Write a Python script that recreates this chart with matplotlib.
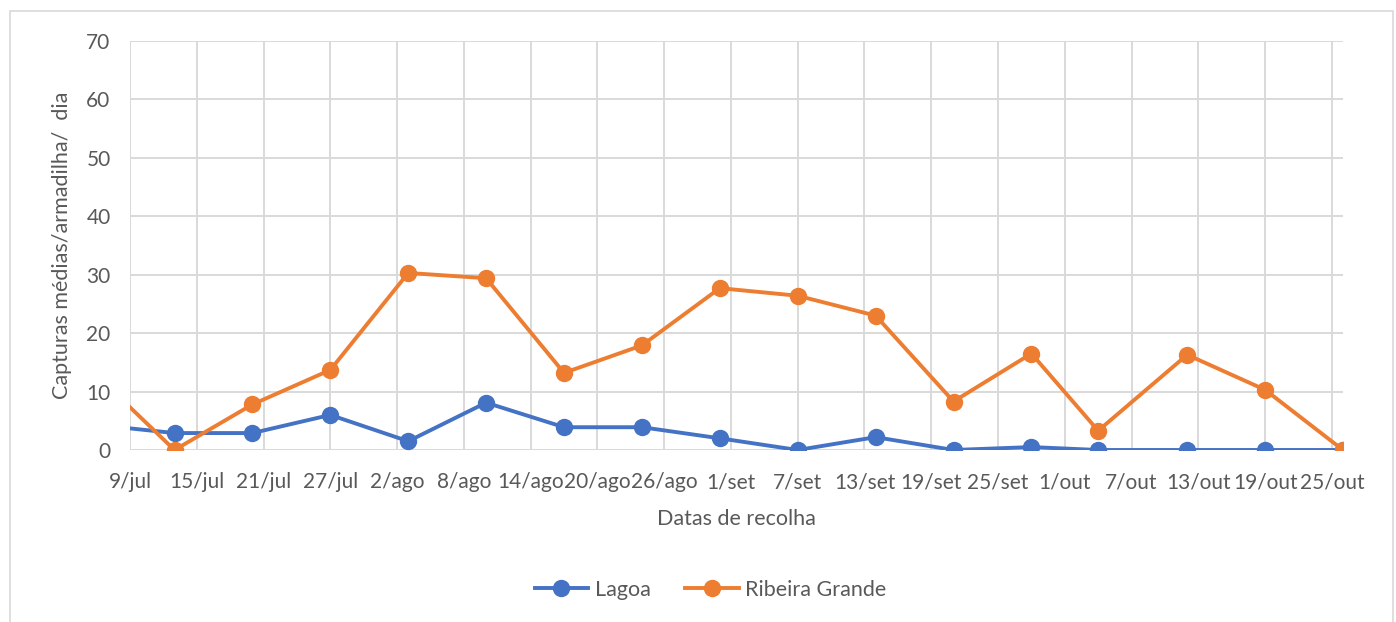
import pandas as pd
import matplotlib
matplotlib.use("Agg")
import matplotlib.pyplot as plt
from matplotlib.patches import Rectangle

plt.rcParams['font.family'] = ['Lato', 'DejaVu Sans']

# collection dates (first one falls just before the axis start and is clipped)
dates = pd.to_datetime([
    "2019-07-06", "2019-07-13", "2019-07-20", "2019-07-27", "2019-08-03",
    "2019-08-10", "2019-08-17", "2019-08-24", "2019-08-31", "2019-09-07",
    "2019-09-14", "2019-09-21", "2019-09-28", "2019-10-04", "2019-10-12",
    "2019-10-19", "2019-10-26",
])
lagoa = [4.3, 2.9, 2.9, 6.0, 1.5, 8.1, 3.9, 3.9, 2.0, 0.0,
         2.2, 0.0, 0.5, 0.0, 0.0, 0.0, 0.0]
ribeira = [12.8, 0.0, 7.8, 13.7, 30.3, 29.4, 13.2, 17.9, 27.7, 26.4,
           23.0, 8.3, 16.5, 3.3, 16.3, 10.3, 0.0]

tick_dates = pd.date_range("2019-07-09", "2019-10-25", freq="6D")
tick_labels = ["9/jul", "15/jul", "21/jul", "27/jul", "2/ago", "8/ago",
               "14/ago", "20/ago", "26/ago", "1/set", "7/set", "13/set",
               "19/set", "25/set", "1/out", "7/out", "13/out", "19/out",
               "25/out"]

BLUE = "#4472C4"
ORANGE = "#ED7D31"
GRID = "#d9d9d9"
TXT = "#595959"

fig = plt.figure(figsize=(13.96, 6.22), dpi=100)
fig.patches.append(Rectangle((10 / 1396, -0.01), 1383 / 1396, 1 - 11 / 622 + 0.01,
                             transform=fig.transFigure, fill=False,
                             edgecolor=GRID, linewidth=1.2))
ax = fig.add_axes([130 / 1396, 1 - 450 / 622, 1213 / 1396, 409 / 622])

ax.plot(dates, lagoa, color=BLUE, linewidth=2.8, marker="o", markersize=11.5,
        label="Lagoa", zorder=3)
ax.plot(dates, ribeira, color=ORANGE, linewidth=2.8, marker="o", markersize=11.5,
        label="Ribeira Grande", zorder=3)

ax.set_xlim(pd.Timestamp("2019-07-09"), pd.Timestamp("2019-10-26"))
ax.set_ylim(0, 70)
ax.set_yticks(range(0, 71, 10))
ax.set_xticks(tick_dates)
ax.set_xticklabels(tick_labels)

ax.grid(True, color=GRID, linewidth=1.4)
ax.set_axisbelow(True)
for s in ax.spines.values():
    s.set_visible(False)
ax.tick_params(length=0, labelsize=15, colors=TXT)
ax.tick_params(axis="x", pad=16)
ax.tick_params(axis="y", pad=14)

ax.set_xlabel("Datas de recolha", fontsize=15.5, color=TXT, labelpad=12)
ax.set_ylabel("Capturas médias/armadilha/  dia", fontsize=15.5, color=TXT, labelpad=10)

fig.legend(loc="center", bbox_to_anchor=(0.509, 1 - 590 / 622), ncol=2,
           frameon=False, fontsize=15.5, labelcolor=TXT, handlelength=2.5,
           columnspacing=1.6, handletextpad=0.3)

fig.savefig("out.png", dpi=100)
